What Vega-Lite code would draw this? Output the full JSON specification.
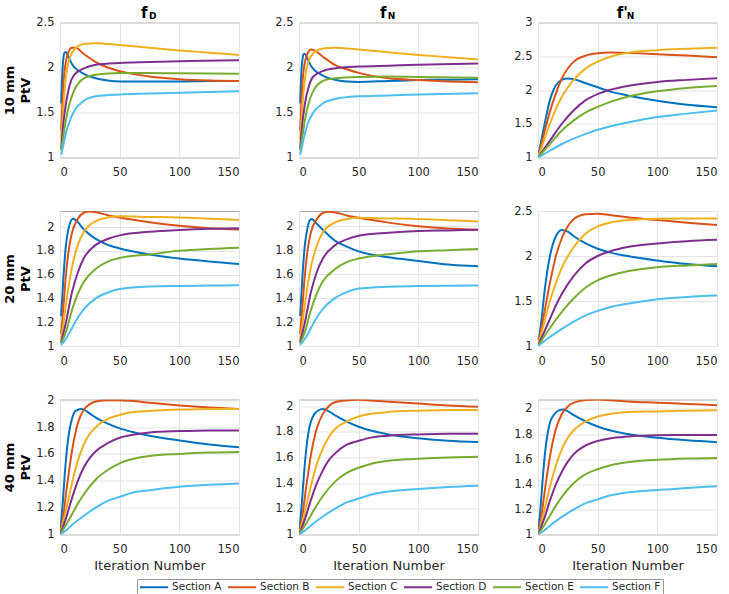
{
  "$schema": "https://vega.github.io/schema/vega-lite/v6.json",
  "padding": {"left": 3, "top": 4.5, "right": 2, "bottom": 0},
  "background": "white",
  "datasets": {
    "r1c1": [
      {"s":"Section A","x":1,"y":1.6},{"s":"Section A","x":2,"y":1.95},{"s":"Section A","x":3,"y":2.12},{"s":"Section A","x":4,"y":2.17},{"s":"Section A","x":5,"y":2.17},{"s":"Section A","x":7,"y":2.12},{"s":"Section A","x":10,"y":2.04},{"s":"Section A","x":13,"y":1.99},{"s":"Section A","x":20,"y":1.93},{"s":"Section A","x":25,"y":1.9},{"s":"Section A","x":30,"y":1.88},{"s":"Section A","x":40,"y":1.855},{"s":"Section A","x":50,"y":1.845},{"s":"Section A","x":75,"y":1.845},{"s":"Section A","x":100,"y":1.845},{"s":"Section A","x":125,"y":1.85},{"s":"Section A","x":150,"y":1.85},
      {"s":"Section B","x":1,"y":1.3},{"s":"Section B","x":2,"y":1.6},{"s":"Section B","x":3,"y":1.85},{"s":"Section B","x":5,"y":2.07},{"s":"Section B","x":7,"y":2.17},{"s":"Section B","x":10,"y":2.22},{"s":"Section B","x":13,"y":2.22},{"s":"Section B","x":20,"y":2.15},{"s":"Section B","x":30,"y":2.06},{"s":"Section B","x":40,"y":2.0},{"s":"Section B","x":50,"y":1.96},{"s":"Section B","x":75,"y":1.9},{"s":"Section B","x":100,"y":1.87},{"s":"Section B","x":125,"y":1.855},{"s":"Section B","x":150,"y":1.85},
      {"s":"Section C","x":1,"y":1.2},{"s":"Section C","x":3,"y":1.6},{"s":"Section C","x":5,"y":1.9},{"s":"Section C","x":8,"y":2.1},{"s":"Section C","x":12,"y":2.2},{"s":"Section C","x":20,"y":2.26},{"s":"Section C","x":30,"y":2.27},{"s":"Section C","x":50,"y":2.25},{"s":"Section C","x":75,"y":2.22},{"s":"Section C","x":100,"y":2.19},{"s":"Section C","x":125,"y":2.165},{"s":"Section C","x":150,"y":2.14},
      {"s":"Section D","x":1,"y":1.1},{"s":"Section D","x":3,"y":1.4},{"s":"Section D","x":5,"y":1.6},{"s":"Section D","x":8,"y":1.8},{"s":"Section D","x":12,"y":1.92},{"s":"Section D","x":20,"y":1.99},{"s":"Section D","x":30,"y":2.03},{"s":"Section D","x":50,"y":2.05},{"s":"Section D","x":75,"y":2.06},{"s":"Section D","x":100,"y":2.07},{"s":"Section D","x":150,"y":2.08},
      {"s":"Section E","x":1,"y":1.08},{"s":"Section E","x":3,"y":1.25},{"s":"Section E","x":5,"y":1.42},{"s":"Section E","x":8,"y":1.6},{"s":"Section E","x":12,"y":1.75},{"s":"Section E","x":20,"y":1.88},{"s":"Section E","x":30,"y":1.92},{"s":"Section E","x":50,"y":1.94},{"s":"Section E","x":75,"y":1.94},{"s":"Section E","x":100,"y":1.935},{"s":"Section E","x":150,"y":1.93},
      {"s":"Section F","x":1,"y":1.03},{"s":"Section F","x":3,"y":1.15},{"s":"Section F","x":5,"y":1.27},{"s":"Section F","x":8,"y":1.4},{"s":"Section F","x":12,"y":1.52},{"s":"Section F","x":20,"y":1.63},{"s":"Section F","x":30,"y":1.68},{"s":"Section F","x":50,"y":1.7},{"s":"Section F","x":75,"y":1.71},{"s":"Section F","x":100,"y":1.72},{"s":"Section F","x":150,"y":1.735}
    ],
    "r1c2": [
      {"s":"Section A","x":1,"y":1.6},{"s":"Section A","x":2,"y":1.95},{"s":"Section A","x":3,"y":2.1},{"s":"Section A","x":4,"y":2.15},{"s":"Section A","x":5,"y":2.15},{"s":"Section A","x":7,"y":2.1},{"s":"Section A","x":10,"y":2.02},{"s":"Section A","x":13,"y":1.97},{"s":"Section A","x":20,"y":1.91},{"s":"Section A","x":25,"y":1.88},{"s":"Section A","x":30,"y":1.865},{"s":"Section A","x":40,"y":1.845},{"s":"Section A","x":50,"y":1.84},{"s":"Section A","x":75,"y":1.85},{"s":"Section A","x":100,"y":1.86},{"s":"Section A","x":125,"y":1.865},{"s":"Section A","x":150,"y":1.87},
      {"s":"Section B","x":1,"y":1.3},{"s":"Section B","x":2,"y":1.6},{"s":"Section B","x":3,"y":1.85},{"s":"Section B","x":5,"y":2.06},{"s":"Section B","x":7,"y":2.15},{"s":"Section B","x":10,"y":2.2},{"s":"Section B","x":13,"y":2.19},{"s":"Section B","x":20,"y":2.12},{"s":"Section B","x":30,"y":2.03},{"s":"Section B","x":40,"y":1.98},{"s":"Section B","x":50,"y":1.94},{"s":"Section B","x":75,"y":1.88},{"s":"Section B","x":100,"y":1.86},{"s":"Section B","x":125,"y":1.845},{"s":"Section B","x":150,"y":1.835},
      {"s":"Section C","x":1,"y":1.2},{"s":"Section C","x":3,"y":1.6},{"s":"Section C","x":5,"y":1.88},{"s":"Section C","x":8,"y":2.07},{"s":"Section C","x":12,"y":2.16},{"s":"Section C","x":20,"y":2.21},{"s":"Section C","x":30,"y":2.22},{"s":"Section C","x":50,"y":2.2},{"s":"Section C","x":75,"y":2.17},{"s":"Section C","x":100,"y":2.14},{"s":"Section C","x":125,"y":2.115},{"s":"Section C","x":150,"y":2.09},
      {"s":"Section D","x":1,"y":1.1},{"s":"Section D","x":3,"y":1.4},{"s":"Section D","x":5,"y":1.6},{"s":"Section D","x":8,"y":1.78},{"s":"Section D","x":12,"y":1.9},{"s":"Section D","x":20,"y":1.96},{"s":"Section D","x":30,"y":1.99},{"s":"Section D","x":50,"y":2.01},{"s":"Section D","x":75,"y":2.02},{"s":"Section D","x":100,"y":2.03},{"s":"Section D","x":150,"y":2.045},
      {"s":"Section E","x":1,"y":1.08},{"s":"Section E","x":3,"y":1.25},{"s":"Section E","x":5,"y":1.42},{"s":"Section E","x":8,"y":1.6},{"s":"Section E","x":12,"y":1.74},{"s":"Section E","x":20,"y":1.85},{"s":"Section E","x":30,"y":1.88},{"s":"Section E","x":50,"y":1.895},{"s":"Section E","x":75,"y":1.9},{"s":"Section E","x":100,"y":1.895},{"s":"Section E","x":150,"y":1.885},
      {"s":"Section F","x":1,"y":1.03},{"s":"Section F","x":3,"y":1.15},{"s":"Section F","x":5,"y":1.27},{"s":"Section F","x":8,"y":1.4},{"s":"Section F","x":12,"y":1.5},{"s":"Section F","x":20,"y":1.6},{"s":"Section F","x":30,"y":1.65},{"s":"Section F","x":50,"y":1.68},{"s":"Section F","x":75,"y":1.69},{"s":"Section F","x":100,"y":1.7},{"s":"Section F","x":150,"y":1.715}
    ],
    "r1c3": [
      {"s":"Section A","x":0,"y":1.0},{"s":"Section A","x":5,"y":1.45},{"s":"Section A","x":10,"y":1.85},{"s":"Section A","x":15,"y":2.07},{"s":"Section A","x":20,"y":2.15},{"s":"Section A","x":25,"y":2.17},{"s":"Section A","x":30,"y":2.16},{"s":"Section A","x":40,"y":2.1},{"s":"Section A","x":50,"y":2.04},{"s":"Section A","x":60,"y":1.98},{"s":"Section A","x":75,"y":1.92},{"s":"Section A","x":100,"y":1.84},{"s":"Section A","x":125,"y":1.78},{"s":"Section A","x":150,"y":1.745},
      {"s":"Section B","x":0,"y":1.0},{"s":"Section B","x":5,"y":1.35},{"s":"Section B","x":10,"y":1.68},{"s":"Section B","x":15,"y":1.95},{"s":"Section B","x":20,"y":2.17},{"s":"Section B","x":30,"y":2.42},{"s":"Section B","x":40,"y":2.51},{"s":"Section B","x":50,"y":2.545},{"s":"Section B","x":60,"y":2.555},{"s":"Section B","x":75,"y":2.55},{"s":"Section B","x":100,"y":2.53},{"s":"Section B","x":125,"y":2.51},{"s":"Section B","x":150,"y":2.485},
      {"s":"Section C","x":0,"y":1.0},{"s":"Section C","x":5,"y":1.25},{"s":"Section C","x":10,"y":1.5},{"s":"Section C","x":15,"y":1.72},{"s":"Section C","x":20,"y":1.9},{"s":"Section C","x":30,"y":2.15},{"s":"Section C","x":40,"y":2.32},{"s":"Section C","x":50,"y":2.42},{"s":"Section C","x":60,"y":2.49},{"s":"Section C","x":75,"y":2.55},{"s":"Section C","x":100,"y":2.59},{"s":"Section C","x":125,"y":2.61},{"s":"Section C","x":150,"y":2.625},
      {"s":"Section D","x":0,"y":1.0},{"s":"Section D","x":10,"y":1.25},{"s":"Section D","x":20,"y":1.5},{"s":"Section D","x":30,"y":1.7},{"s":"Section D","x":40,"y":1.85},{"s":"Section D","x":50,"y":1.94},{"s":"Section D","x":60,"y":2.0},{"s":"Section D","x":75,"y":2.06},{"s":"Section D","x":100,"y":2.12},{"s":"Section D","x":125,"y":2.15},{"s":"Section D","x":150,"y":2.175},
      {"s":"Section E","x":0,"y":1.0},{"s":"Section E","x":10,"y":1.2},{"s":"Section E","x":20,"y":1.4},{"s":"Section E","x":30,"y":1.55},{"s":"Section E","x":40,"y":1.67},{"s":"Section E","x":50,"y":1.75},{"s":"Section E","x":60,"y":1.82},{"s":"Section E","x":75,"y":1.9},{"s":"Section E","x":100,"y":1.98},{"s":"Section E","x":125,"y":2.03},{"s":"Section E","x":150,"y":2.06},
      {"s":"Section F","x":0,"y":1.0},{"s":"Section F","x":10,"y":1.1},{"s":"Section F","x":20,"y":1.2},{"s":"Section F","x":30,"y":1.28},{"s":"Section F","x":40,"y":1.35},{"s":"Section F","x":50,"y":1.41},{"s":"Section F","x":60,"y":1.46},{"s":"Section F","x":75,"y":1.52},{"s":"Section F","x":100,"y":1.6},{"s":"Section F","x":125,"y":1.65},{"s":"Section F","x":150,"y":1.695}
    ],
    "r2c1": [
      {"s":"Section A","x":1,"y":1.25},{"s":"Section A","x":3,"y":1.6},{"s":"Section A","x":5,"y":1.85},{"s":"Section A","x":7,"y":1.98},{"s":"Section A","x":9,"y":2.05},{"s":"Section A","x":11,"y":2.07},{"s":"Section A","x":13,"y":2.06},{"s":"Section A","x":20,"y":1.98},{"s":"Section A","x":30,"y":1.9},{"s":"Section A","x":40,"y":1.85},{"s":"Section A","x":50,"y":1.82},{"s":"Section A","x":75,"y":1.77},{"s":"Section A","x":100,"y":1.735},{"s":"Section A","x":125,"y":1.71},{"s":"Section A","x":150,"y":1.69},
      {"s":"Section B","x":1,"y":1.1},{"s":"Section B","x":3,"y":1.35},{"s":"Section B","x":5,"y":1.6},{"s":"Section B","x":8,"y":1.85},{"s":"Section B","x":10,"y":1.95},{"s":"Section B","x":15,"y":2.07},{"s":"Section B","x":20,"y":2.12},{"s":"Section B","x":25,"y":2.13},{"s":"Section B","x":30,"y":2.125},{"s":"Section B","x":40,"y":2.1},{"s":"Section B","x":50,"y":2.08},{"s":"Section B","x":75,"y":2.04},{"s":"Section B","x":100,"y":2.01},{"s":"Section B","x":125,"y":1.99},{"s":"Section B","x":150,"y":1.98},
      {"s":"Section C","x":1,"y":1.05},{"s":"Section C","x":3,"y":1.2},{"s":"Section C","x":5,"y":1.35},{"s":"Section C","x":8,"y":1.55},{"s":"Section C","x":10,"y":1.66},{"s":"Section C","x":15,"y":1.85},{"s":"Section C","x":20,"y":1.96},{"s":"Section C","x":30,"y":2.05},{"s":"Section C","x":40,"y":2.08},{"s":"Section C","x":50,"y":2.09},{"s":"Section C","x":75,"y":2.085},{"s":"Section C","x":100,"y":2.08},{"s":"Section C","x":125,"y":2.07},{"s":"Section C","x":150,"y":2.06},
      {"s":"Section D","x":1,"y":1.03},{"s":"Section D","x":5,"y":1.2},{"s":"Section D","x":10,"y":1.45},{"s":"Section D","x":15,"y":1.62},{"s":"Section D","x":20,"y":1.74},{"s":"Section D","x":30,"y":1.85},{"s":"Section D","x":40,"y":1.9},{"s":"Section D","x":50,"y":1.93},{"s":"Section D","x":75,"y":1.96},{"s":"Section D","x":100,"y":1.975},{"s":"Section D","x":125,"y":1.985},{"s":"Section D","x":150,"y":1.99},
      {"s":"Section E","x":1,"y":1.02},{"s":"Section E","x":5,"y":1.12},{"s":"Section E","x":10,"y":1.3},{"s":"Section E","x":15,"y":1.44},{"s":"Section E","x":20,"y":1.54},{"s":"Section E","x":30,"y":1.65},{"s":"Section E","x":40,"y":1.71},{"s":"Section E","x":50,"y":1.74},{"s":"Section E","x":75,"y":1.77},{"s":"Section E","x":100,"y":1.8},{"s":"Section E","x":125,"y":1.815},{"s":"Section E","x":150,"y":1.825},
      {"s":"Section F","x":1,"y":1.01},{"s":"Section F","x":5,"y":1.06},{"s":"Section F","x":10,"y":1.15},{"s":"Section F","x":15,"y":1.24},{"s":"Section F","x":20,"y":1.31},{"s":"Section F","x":30,"y":1.4},{"s":"Section F","x":40,"y":1.45},{"s":"Section F","x":50,"y":1.48},{"s":"Section F","x":75,"y":1.5},{"s":"Section F","x":100,"y":1.505},{"s":"Section F","x":125,"y":1.508},{"s":"Section F","x":150,"y":1.51}
    ],
    "r2c2": [
      {"s":"Section A","x":1,"y":1.25},{"s":"Section A","x":3,"y":1.6},{"s":"Section A","x":5,"y":1.85},{"s":"Section A","x":7,"y":1.98},{"s":"Section A","x":9,"y":2.05},{"s":"Section A","x":11,"y":2.06},{"s":"Section A","x":13,"y":2.04},{"s":"Section A","x":20,"y":1.97},{"s":"Section A","x":30,"y":1.88},{"s":"Section A","x":40,"y":1.83},{"s":"Section A","x":50,"y":1.79},{"s":"Section A","x":75,"y":1.74},{"s":"Section A","x":100,"y":1.71},{"s":"Section A","x":125,"y":1.68},{"s":"Section A","x":150,"y":1.665},
      {"s":"Section B","x":1,"y":1.1},{"s":"Section B","x":3,"y":1.35},{"s":"Section B","x":5,"y":1.6},{"s":"Section B","x":8,"y":1.85},{"s":"Section B","x":10,"y":1.95},{"s":"Section B","x":15,"y":2.06},{"s":"Section B","x":20,"y":2.11},{"s":"Section B","x":25,"y":2.12},{"s":"Section B","x":30,"y":2.115},{"s":"Section B","x":40,"y":2.09},{"s":"Section B","x":50,"y":2.07},{"s":"Section B","x":75,"y":2.03},{"s":"Section B","x":100,"y":2.0},{"s":"Section B","x":125,"y":1.98},{"s":"Section B","x":150,"y":1.97},
      {"s":"Section C","x":1,"y":1.05},{"s":"Section C","x":3,"y":1.2},{"s":"Section C","x":5,"y":1.35},{"s":"Section C","x":8,"y":1.55},{"s":"Section C","x":10,"y":1.66},{"s":"Section C","x":15,"y":1.84},{"s":"Section C","x":20,"y":1.95},{"s":"Section C","x":30,"y":2.03},{"s":"Section C","x":40,"y":2.06},{"s":"Section C","x":50,"y":2.07},{"s":"Section C","x":75,"y":2.065},{"s":"Section C","x":100,"y":2.06},{"s":"Section C","x":125,"y":2.05},{"s":"Section C","x":150,"y":2.04},
      {"s":"Section D","x":1,"y":1.03},{"s":"Section D","x":5,"y":1.2},{"s":"Section D","x":10,"y":1.45},{"s":"Section D","x":15,"y":1.62},{"s":"Section D","x":20,"y":1.73},{"s":"Section D","x":30,"y":1.84},{"s":"Section D","x":40,"y":1.89},{"s":"Section D","x":50,"y":1.92},{"s":"Section D","x":75,"y":1.945},{"s":"Section D","x":100,"y":1.96},{"s":"Section D","x":125,"y":1.965},{"s":"Section D","x":150,"y":1.97},
      {"s":"Section E","x":1,"y":1.02},{"s":"Section E","x":5,"y":1.12},{"s":"Section E","x":10,"y":1.3},{"s":"Section E","x":15,"y":1.44},{"s":"Section E","x":20,"y":1.54},{"s":"Section E","x":30,"y":1.64},{"s":"Section E","x":40,"y":1.7},{"s":"Section E","x":50,"y":1.73},{"s":"Section E","x":75,"y":1.765},{"s":"Section E","x":100,"y":1.79},{"s":"Section E","x":125,"y":1.8},{"s":"Section E","x":150,"y":1.81},
      {"s":"Section F","x":1,"y":1.01},{"s":"Section F","x":5,"y":1.06},{"s":"Section F","x":10,"y":1.15},{"s":"Section F","x":15,"y":1.24},{"s":"Section F","x":20,"y":1.31},{"s":"Section F","x":30,"y":1.4},{"s":"Section F","x":40,"y":1.45},{"s":"Section F","x":50,"y":1.48},{"s":"Section F","x":75,"y":1.495},{"s":"Section F","x":100,"y":1.5},{"s":"Section F","x":150,"y":1.505}
    ],
    "r2c3": [
      {"s":"Section A","x":0,"y":1.0},{"s":"Section A","x":3,"y":1.3},{"s":"Section A","x":5,"y":1.55},{"s":"Section A","x":8,"y":1.85},{"s":"Section A","x":10,"y":2.0},{"s":"Section A","x":15,"y":2.22},{"s":"Section A","x":20,"y":2.29},{"s":"Section A","x":25,"y":2.27},{"s":"Section A","x":30,"y":2.22},{"s":"Section A","x":40,"y":2.14},{"s":"Section A","x":50,"y":2.08},{"s":"Section A","x":60,"y":2.04},{"s":"Section A","x":75,"y":2.0},{"s":"Section A","x":100,"y":1.95},{"s":"Section A","x":125,"y":1.91},{"s":"Section A","x":150,"y":1.885},
      {"s":"Section B","x":0,"y":1.0},{"s":"Section B","x":5,"y":1.35},{"s":"Section B","x":10,"y":1.7},{"s":"Section B","x":15,"y":2.0},{"s":"Section B","x":20,"y":2.2},{"s":"Section B","x":25,"y":2.33},{"s":"Section B","x":30,"y":2.41},{"s":"Section B","x":40,"y":2.465},{"s":"Section B","x":50,"y":2.47},{"s":"Section B","x":60,"y":2.455},{"s":"Section B","x":75,"y":2.43},{"s":"Section B","x":100,"y":2.4},{"s":"Section B","x":125,"y":2.37},{"s":"Section B","x":150,"y":2.345},
      {"s":"Section C","x":0,"y":1.0},{"s":"Section C","x":5,"y":1.25},{"s":"Section C","x":10,"y":1.5},{"s":"Section C","x":15,"y":1.7},{"s":"Section C","x":20,"y":1.87},{"s":"Section C","x":30,"y":2.1},{"s":"Section C","x":40,"y":2.25},{"s":"Section C","x":50,"y":2.33},{"s":"Section C","x":60,"y":2.37},{"s":"Section C","x":75,"y":2.4},{"s":"Section C","x":100,"y":2.415},{"s":"Section C","x":125,"y":2.418},{"s":"Section C","x":150,"y":2.418},
      {"s":"Section D","x":0,"y":1.0},{"s":"Section D","x":5,"y":1.15},{"s":"Section D","x":10,"y":1.3},{"s":"Section D","x":15,"y":1.45},{"s":"Section D","x":20,"y":1.58},{"s":"Section D","x":30,"y":1.78},{"s":"Section D","x":40,"y":1.92},{"s":"Section D","x":50,"y":2.0},{"s":"Section D","x":60,"y":2.05},{"s":"Section D","x":75,"y":2.1},{"s":"Section D","x":100,"y":2.14},{"s":"Section D","x":125,"y":2.165},{"s":"Section D","x":150,"y":2.18},
      {"s":"Section E","x":0,"y":1.0},{"s":"Section E","x":10,"y":1.2},{"s":"Section E","x":20,"y":1.38},{"s":"Section E","x":30,"y":1.53},{"s":"Section E","x":40,"y":1.65},{"s":"Section E","x":50,"y":1.73},{"s":"Section E","x":60,"y":1.78},{"s":"Section E","x":75,"y":1.83},{"s":"Section E","x":100,"y":1.875},{"s":"Section E","x":125,"y":1.895},{"s":"Section E","x":150,"y":1.91},
      {"s":"Section F","x":0,"y":1.0},{"s":"Section F","x":10,"y":1.1},{"s":"Section F","x":20,"y":1.19},{"s":"Section F","x":30,"y":1.27},{"s":"Section F","x":40,"y":1.34},{"s":"Section F","x":50,"y":1.39},{"s":"Section F","x":60,"y":1.43},{"s":"Section F","x":75,"y":1.47},{"s":"Section F","x":100,"y":1.52},{"s":"Section F","x":125,"y":1.545},{"s":"Section F","x":150,"y":1.56}
    ],
    "r3c1": [
      {"s":"Section A","x":0,"y":1.0},{"s":"Section A","x":2,"y":1.2},{"s":"Section A","x":4,"y":1.45},{"s":"Section A","x":6,"y":1.65},{"s":"Section A","x":8,"y":1.78},{"s":"Section A","x":10,"y":1.86},{"s":"Section A","x":13,"y":1.92},{"s":"Section A","x":18,"y":1.935},{"s":"Section A","x":20,"y":1.93},{"s":"Section A","x":25,"y":1.9},{"s":"Section A","x":30,"y":1.87},{"s":"Section A","x":40,"y":1.825},{"s":"Section A","x":50,"y":1.79},{"s":"Section A","x":60,"y":1.765},{"s":"Section A","x":75,"y":1.735},{"s":"Section A","x":100,"y":1.7},{"s":"Section A","x":125,"y":1.67},{"s":"Section A","x":150,"y":1.65},
      {"s":"Section B","x":0,"y":1.0},{"s":"Section B","x":3,"y":1.15},{"s":"Section B","x":5,"y":1.3},{"s":"Section B","x":8,"y":1.5},{"s":"Section B","x":10,"y":1.62},{"s":"Section B","x":15,"y":1.83},{"s":"Section B","x":20,"y":1.93},{"s":"Section B","x":25,"y":1.97},{"s":"Section B","x":30,"y":1.99},{"s":"Section B","x":40,"y":2.0},{"s":"Section B","x":50,"y":2.0},{"s":"Section B","x":60,"y":1.995},{"s":"Section B","x":75,"y":1.98},{"s":"Section B","x":100,"y":1.96},{"s":"Section B","x":125,"y":1.945},{"s":"Section B","x":150,"y":1.935},
      {"s":"Section C","x":0,"y":1.0},{"s":"Section C","x":5,"y":1.18},{"s":"Section C","x":10,"y":1.38},{"s":"Section C","x":15,"y":1.55},{"s":"Section C","x":20,"y":1.67},{"s":"Section C","x":25,"y":1.75},{"s":"Section C","x":30,"y":1.8},{"s":"Section C","x":40,"y":1.86},{"s":"Section C","x":50,"y":1.89},{"s":"Section C","x":60,"y":1.91},{"s":"Section C","x":75,"y":1.92},{"s":"Section C","x":100,"y":1.93},{"s":"Section C","x":125,"y":1.935},{"s":"Section C","x":150,"y":1.935},
      {"s":"Section D","x":0,"y":1.0},{"s":"Section D","x":5,"y":1.12},{"s":"Section D","x":10,"y":1.27},{"s":"Section D","x":15,"y":1.4},{"s":"Section D","x":20,"y":1.5},{"s":"Section D","x":25,"y":1.57},{"s":"Section D","x":30,"y":1.62},{"s":"Section D","x":40,"y":1.68},{"s":"Section D","x":50,"y":1.72},{"s":"Section D","x":60,"y":1.74},{"s":"Section D","x":75,"y":1.76},{"s":"Section D","x":100,"y":1.77},{"s":"Section D","x":125,"y":1.775},{"s":"Section D","x":150,"y":1.775},
      {"s":"Section E","x":0,"y":1.0},{"s":"Section E","x":5,"y":1.07},{"s":"Section E","x":10,"y":1.15},{"s":"Section E","x":15,"y":1.23},{"s":"Section E","x":20,"y":1.3},{"s":"Section E","x":30,"y":1.41},{"s":"Section E","x":40,"y":1.48},{"s":"Section E","x":50,"y":1.53},{"s":"Section E","x":60,"y":1.56},{"s":"Section E","x":75,"y":1.585},{"s":"Section E","x":100,"y":1.6},{"s":"Section E","x":125,"y":1.61},{"s":"Section E","x":150,"y":1.615},
      {"s":"Section F","x":0,"y":1.0},{"s":"Section F","x":5,"y":1.03},{"s":"Section F","x":10,"y":1.07},{"s":"Section F","x":20,"y":1.14},{"s":"Section F","x":30,"y":1.2},{"s":"Section F","x":40,"y":1.25},{"s":"Section F","x":50,"y":1.28},{"s":"Section F","x":60,"y":1.31},{"s":"Section F","x":75,"y":1.33},{"s":"Section F","x":100,"y":1.355},{"s":"Section F","x":125,"y":1.37},{"s":"Section F","x":150,"y":1.38}
    ],
    "r3c2": [
      {"s":"Section A","x":0,"y":1.0},{"s":"Section A","x":2,"y":1.2},{"s":"Section A","x":4,"y":1.45},{"s":"Section A","x":6,"y":1.66},{"s":"Section A","x":8,"y":1.8},{"s":"Section A","x":10,"y":1.88},{"s":"Section A","x":13,"y":1.94},{"s":"Section A","x":18,"y":1.975},{"s":"Section A","x":20,"y":1.978},{"s":"Section A","x":25,"y":1.96},{"s":"Section A","x":30,"y":1.93},{"s":"Section A","x":40,"y":1.88},{"s":"Section A","x":50,"y":1.84},{"s":"Section A","x":60,"y":1.81},{"s":"Section A","x":75,"y":1.78},{"s":"Section A","x":100,"y":1.75},{"s":"Section A","x":125,"y":1.73},{"s":"Section A","x":150,"y":1.72},
      {"s":"Section B","x":0,"y":1.0},{"s":"Section B","x":3,"y":1.15},{"s":"Section B","x":5,"y":1.3},{"s":"Section B","x":8,"y":1.5},{"s":"Section B","x":10,"y":1.62},{"s":"Section B","x":15,"y":1.83},{"s":"Section B","x":20,"y":1.94},{"s":"Section B","x":25,"y":2.0},{"s":"Section B","x":30,"y":2.03},{"s":"Section B","x":40,"y":2.045},{"s":"Section B","x":50,"y":2.05},{"s":"Section B","x":60,"y":2.045},{"s":"Section B","x":75,"y":2.035},{"s":"Section B","x":100,"y":2.02},{"s":"Section B","x":125,"y":2.005},{"s":"Section B","x":150,"y":1.995},
      {"s":"Section C","x":0,"y":1.0},{"s":"Section C","x":5,"y":1.18},{"s":"Section C","x":10,"y":1.38},{"s":"Section C","x":15,"y":1.55},{"s":"Section C","x":20,"y":1.67},{"s":"Section C","x":25,"y":1.76},{"s":"Section C","x":30,"y":1.82},{"s":"Section C","x":40,"y":1.88},{"s":"Section C","x":50,"y":1.92},{"s":"Section C","x":60,"y":1.94},{"s":"Section C","x":75,"y":1.955},{"s":"Section C","x":100,"y":1.965},{"s":"Section C","x":125,"y":1.97},{"s":"Section C","x":150,"y":1.97},
      {"s":"Section D","x":0,"y":1.0},{"s":"Section D","x":5,"y":1.12},{"s":"Section D","x":10,"y":1.27},{"s":"Section D","x":15,"y":1.4},{"s":"Section D","x":20,"y":1.5},{"s":"Section D","x":25,"y":1.58},{"s":"Section D","x":30,"y":1.63},{"s":"Section D","x":40,"y":1.7},{"s":"Section D","x":50,"y":1.73},{"s":"Section D","x":60,"y":1.755},{"s":"Section D","x":75,"y":1.77},{"s":"Section D","x":100,"y":1.78},{"s":"Section D","x":125,"y":1.785},{"s":"Section D","x":150,"y":1.785},
      {"s":"Section E","x":0,"y":1.0},{"s":"Section E","x":5,"y":1.07},{"s":"Section E","x":10,"y":1.15},{"s":"Section E","x":15,"y":1.23},{"s":"Section E","x":20,"y":1.3},{"s":"Section E","x":30,"y":1.41},{"s":"Section E","x":40,"y":1.48},{"s":"Section E","x":50,"y":1.52},{"s":"Section E","x":60,"y":1.55},{"s":"Section E","x":75,"y":1.575},{"s":"Section E","x":100,"y":1.59},{"s":"Section E","x":125,"y":1.6},{"s":"Section E","x":150,"y":1.605},
      {"s":"Section F","x":0,"y":1.0},{"s":"Section F","x":5,"y":1.03},{"s":"Section F","x":10,"y":1.07},{"s":"Section F","x":20,"y":1.14},{"s":"Section F","x":30,"y":1.2},{"s":"Section F","x":40,"y":1.25},{"s":"Section F","x":50,"y":1.28},{"s":"Section F","x":60,"y":1.31},{"s":"Section F","x":75,"y":1.335},{"s":"Section F","x":100,"y":1.355},{"s":"Section F","x":125,"y":1.37},{"s":"Section F","x":150,"y":1.38}
    ],
    "r3c3": [
      {"s":"Section A","x":0,"y":1.0},{"s":"Section A","x":2,"y":1.2},{"s":"Section A","x":4,"y":1.45},{"s":"Section A","x":6,"y":1.66},{"s":"Section A","x":8,"y":1.8},{"s":"Section A","x":10,"y":1.89},{"s":"Section A","x":13,"y":1.95},{"s":"Section A","x":18,"y":1.99},{"s":"Section A","x":21,"y":1.995},{"s":"Section A","x":25,"y":1.98},{"s":"Section A","x":30,"y":1.95},{"s":"Section A","x":40,"y":1.9},{"s":"Section A","x":50,"y":1.86},{"s":"Section A","x":60,"y":1.83},{"s":"Section A","x":75,"y":1.8},{"s":"Section A","x":100,"y":1.77},{"s":"Section A","x":125,"y":1.75},{"s":"Section A","x":150,"y":1.735},
      {"s":"Section B","x":0,"y":1.0},{"s":"Section B","x":3,"y":1.15},{"s":"Section B","x":5,"y":1.3},{"s":"Section B","x":8,"y":1.5},{"s":"Section B","x":10,"y":1.62},{"s":"Section B","x":15,"y":1.84},{"s":"Section B","x":20,"y":1.96},{"s":"Section B","x":25,"y":2.02},{"s":"Section B","x":30,"y":2.05},{"s":"Section B","x":40,"y":2.07},{"s":"Section B","x":50,"y":2.075},{"s":"Section B","x":60,"y":2.07},{"s":"Section B","x":75,"y":2.06},{"s":"Section B","x":100,"y":2.05},{"s":"Section B","x":125,"y":2.04},{"s":"Section B","x":150,"y":2.03},
      {"s":"Section C","x":0,"y":1.0},{"s":"Section C","x":5,"y":1.18},{"s":"Section C","x":10,"y":1.38},{"s":"Section C","x":15,"y":1.55},{"s":"Section C","x":20,"y":1.68},{"s":"Section C","x":25,"y":1.77},{"s":"Section C","x":30,"y":1.83},{"s":"Section C","x":40,"y":1.9},{"s":"Section C","x":50,"y":1.94},{"s":"Section C","x":60,"y":1.96},{"s":"Section C","x":75,"y":1.975},{"s":"Section C","x":100,"y":1.98},{"s":"Section C","x":125,"y":1.985},{"s":"Section C","x":150,"y":1.99},
      {"s":"Section D","x":0,"y":1.0},{"s":"Section D","x":5,"y":1.12},{"s":"Section D","x":10,"y":1.27},{"s":"Section D","x":15,"y":1.4},{"s":"Section D","x":20,"y":1.5},{"s":"Section D","x":25,"y":1.58},{"s":"Section D","x":30,"y":1.64},{"s":"Section D","x":40,"y":1.71},{"s":"Section D","x":50,"y":1.745},{"s":"Section D","x":60,"y":1.765},{"s":"Section D","x":75,"y":1.78},{"s":"Section D","x":100,"y":1.79},{"s":"Section D","x":125,"y":1.792},{"s":"Section D","x":150,"y":1.793},
      {"s":"Section E","x":0,"y":1.0},{"s":"Section E","x":5,"y":1.07},{"s":"Section E","x":10,"y":1.15},{"s":"Section E","x":15,"y":1.23},{"s":"Section E","x":20,"y":1.3},{"s":"Section E","x":30,"y":1.41},{"s":"Section E","x":40,"y":1.48},{"s":"Section E","x":50,"y":1.52},{"s":"Section E","x":60,"y":1.55},{"s":"Section E","x":75,"y":1.575},{"s":"Section E","x":100,"y":1.595},{"s":"Section E","x":125,"y":1.605},{"s":"Section E","x":150,"y":1.61},
      {"s":"Section F","x":0,"y":1.0},{"s":"Section F","x":5,"y":1.03},{"s":"Section F","x":10,"y":1.07},{"s":"Section F","x":20,"y":1.14},{"s":"Section F","x":30,"y":1.2},{"s":"Section F","x":40,"y":1.25},{"s":"Section F","x":50,"y":1.28},{"s":"Section F","x":60,"y":1.31},{"s":"Section F","x":75,"y":1.335},{"s":"Section F","x":100,"y":1.355},{"s":"Section F","x":125,"y":1.37},{"s":"Section F","x":150,"y":1.385}
    ]
  },
  "columns": 3,
  "bounds": "flush",
  "spacing": {"row": 53.5, "column": 60},
  "concat": [
    {
      "data": {"name": "r1c1"}, "width": 179, "height": 135,
      "title": {"text": "f\u00a0\u00a0\u200b", "subtitle": "\u200b\u00a0\u00a0D"},
      "mark": {"type": "line", "interpolate": "monotone", "strokeWidth": 2, "clip": true},
      "encoding": {
        "x": {"field": "x", "type": "quantitative", "scale": {"domain": [0, 150], "nice": false}, "axis": {"values": [0, 50, 100, 150], "title": null}},
        "y": {"field": "y", "type": "quantitative", "scale": {"domain": [1, 2.5], "nice": false, "zero": false}, "axis": {"values": [1, 1.5, 2, 2.5], "title": ["10 mm", "PtV"]}},
        "color": {"field": "s", "type": "nominal", "title": null, "scale": {"domain": ["Section A", "Section B", "Section C", "Section D", "Section E", "Section F"], "range": ["#0072BD", "#D95319", "#EDB120", "#7E2F8E", "#77AC30", "#4DBEEE"]}}
      }
    },
    {
      "data": {"name": "r1c2"}, "width": 179, "height": 135,
      "title": {"text": "f\u00a0\u00a0\u200b", "subtitle": "\u200b\u00a0\u00a0N"},
      "mark": {"type": "line", "interpolate": "monotone", "strokeWidth": 2, "clip": true},
      "encoding": {
        "x": {"field": "x", "type": "quantitative", "scale": {"domain": [0, 150], "nice": false}, "axis": {"values": [0, 50, 100, 150], "title": null}},
        "y": {"field": "y", "type": "quantitative", "scale": {"domain": [1, 2.5], "nice": false, "zero": false}, "axis": {"values": [1, 1.5, 2, 2.5], "title": null}},
        "color": {"field": "s", "type": "nominal", "title": null}
      }
    },
    {
      "data": {"name": "r1c3"}, "width": 179, "height": 135,
      "title": {"text": "f'\u00a0\u00a0\u200b", "subtitle": "\u200b\u00a0\u00a0N"},
      "mark": {"type": "line", "interpolate": "monotone", "strokeWidth": 2, "clip": true},
      "encoding": {
        "x": {"field": "x", "type": "quantitative", "scale": {"domain": [0, 150], "nice": false}, "axis": {"values": [0, 50, 100, 150], "title": null}},
        "y": {"field": "y", "type": "quantitative", "scale": {"domain": [1, 3], "nice": false, "zero": false}, "axis": {"values": [1, 1.5, 2, 2.5, 3], "title": null}},
        "color": {"field": "s", "type": "nominal", "title": null}
      }
    },
    {
      "data": {"name": "r2c1"}, "width": 179, "height": 135,
      "mark": {"type": "line", "interpolate": "monotone", "strokeWidth": 2, "clip": true},
      "encoding": {
        "x": {"field": "x", "type": "quantitative", "scale": {"domain": [0, 150], "nice": false}, "axis": {"values": [0, 50, 100, 150], "title": null}},
        "y": {"field": "y", "type": "quantitative", "scale": {"domain": [1, 2.135], "nice": false, "zero": false}, "axis": {"values": [1, 1.2, 1.4, 1.6, 1.8, 2], "title": ["20 mm", "PtV"]}},
        "color": {"field": "s", "type": "nominal", "title": null}
      }
    },
    {
      "data": {"name": "r2c2"}, "width": 179, "height": 135,
      "mark": {"type": "line", "interpolate": "monotone", "strokeWidth": 2, "clip": true},
      "encoding": {
        "x": {"field": "x", "type": "quantitative", "scale": {"domain": [0, 150], "nice": false}, "axis": {"values": [0, 50, 100, 150], "title": null}},
        "y": {"field": "y", "type": "quantitative", "scale": {"domain": [1, 2.127], "nice": false, "zero": false}, "axis": {"values": [1, 1.2, 1.4, 1.6, 1.8, 2], "title": null}},
        "color": {"field": "s", "type": "nominal", "title": null}
      }
    },
    {
      "data": {"name": "r2c3"}, "width": 179, "height": 135,
      "mark": {"type": "line", "interpolate": "monotone", "strokeWidth": 2, "clip": true},
      "encoding": {
        "x": {"field": "x", "type": "quantitative", "scale": {"domain": [0, 150], "nice": false}, "axis": {"values": [0, 50, 100, 150], "title": null}},
        "y": {"field": "y", "type": "quantitative", "scale": {"domain": [1, 2.5], "nice": false, "zero": false}, "axis": {"values": [1, 1.5, 2, 2.5], "title": null}},
        "color": {"field": "s", "type": "nominal", "title": null}
      }
    },
    {
      "data": {"name": "r3c1"}, "width": 179, "height": 135,
      "mark": {"type": "line", "interpolate": "monotone", "strokeWidth": 2, "clip": true},
      "encoding": {
        "x": {"field": "x", "type": "quantitative", "scale": {"domain": [0, 150], "nice": false}, "axis": {"values": [0, 50, 100, 150], "title": "Iteration Number"}},
        "y": {"field": "y", "type": "quantitative", "scale": {"domain": [1, 2.005], "nice": false, "zero": false}, "axis": {"values": [1, 1.2, 1.4, 1.6, 1.8, 2], "title": ["40 mm", "PtV"]}},
        "color": {"field": "s", "type": "nominal", "title": null}
      }
    },
    {
      "data": {"name": "r3c2"}, "width": 179, "height": 135,
      "mark": {"type": "line", "interpolate": "monotone", "strokeWidth": 2, "clip": true},
      "encoding": {
        "x": {"field": "x", "type": "quantitative", "scale": {"domain": [0, 150], "nice": false}, "axis": {"values": [0, 50, 100, 150], "title": "Iteration Number"}},
        "y": {"field": "y", "type": "quantitative", "scale": {"domain": [1, 2.052], "nice": false, "zero": false}, "axis": {"values": [1, 1.2, 1.4, 1.6, 1.8, 2], "title": null}},
        "color": {"field": "s", "type": "nominal", "title": null}
      }
    },
    {
      "data": {"name": "r3c3"}, "width": 179, "height": 135,
      "mark": {"type": "line", "interpolate": "monotone", "strokeWidth": 2, "clip": true},
      "encoding": {
        "x": {"field": "x", "type": "quantitative", "scale": {"domain": [0, 150], "nice": false}, "axis": {"values": [0, 50, 100, 150], "title": "Iteration Number"}},
        "y": {"field": "y", "type": "quantitative", "scale": {"domain": [1, 2.075], "nice": false, "zero": false}, "axis": {"values": [1, 1.2, 1.4, 1.6, 1.8, 2], "title": null}},
        "color": {"field": "s", "type": "nominal", "title": null}
      }
    }
  ],
  "config": {
    "font": "DejaVu Sans",
    "view": {"stroke": "#a8a8a8", "strokeWidth": 1},
    "axis": {
      "domain": false, "ticks": false, "format": "~r",
      "grid": true, "gridColor": "#e3e3e3", "gridWidth": 1,
      "labelFont": "DejaVu Sans", "labelFontSize": 11.5, "labelColor": "#262626", "labelPadding": 6,
      "titleFont": "DejaVu Sans", "titleColor": "#262626", "titleFontWeight": "normal", "titleFontSize": 13
    },
    "axisX": {"labelPadding": 9, "titlePadding": 4},
    "axisY": {"titleFontWeight": "bold", "titleColor": "#000000", "titleLineHeight": 16, "titlePadding": 3},
    "title": {
      "font": "DejaVu Sans", "fontSize": 15, "fontWeight": "bold", "color": "#000000",
      "subtitleFont": "DejaVu Sans", "subtitleFontSize": 9, "subtitleFontWeight": "bold", "subtitleColor": "#000000",
      "lineHeight": 15, "subtitlePadding": -9, "anchor": "middle", "offset": -4
    },
    "legend": {
      "orient": "none", "legendX": 77, "legendY": 556.5, "direction": "horizontal",
      "symbolType": "M-1,0H4.6", "symbolSize": 100, "symbolStrokeWidth": 2,
      "labelFont": "DejaVu Sans", "labelFontSize": 10.5, "labelColor": "#262626", "labelOffset": 21,
      "columnPadding": 2, "padding": 2, "strokeColor": "#999999", "fillColor": "#ffffff", "cornerRadius": 0
    }
  }
}
